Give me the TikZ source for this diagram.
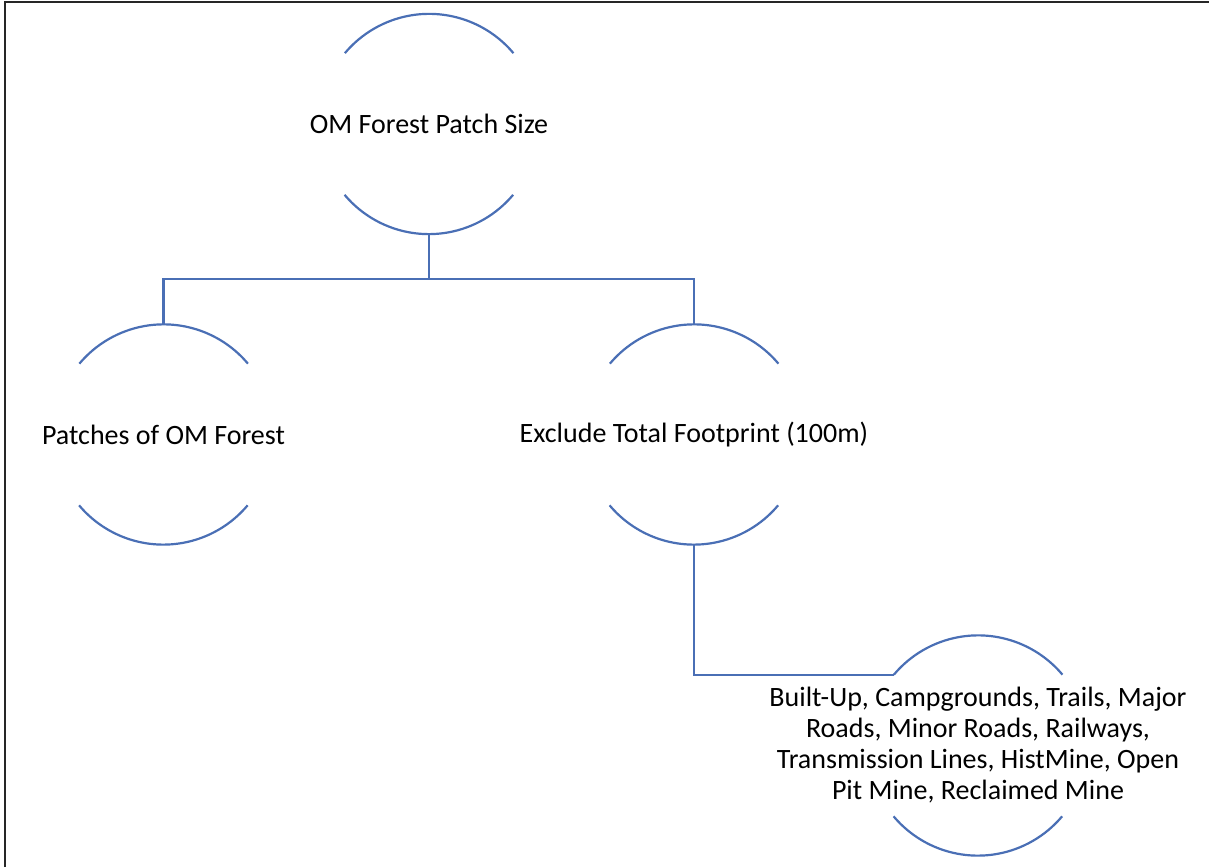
\documentclass[tikz,border=0pt]{standalone}
\usepackage{fontspec}
\setmainfont{Carlito}
\definecolor{arcblue}{HTML}{4A6FB5}
\begin{document}
\begin{tikzpicture}[x=1pt,y=1pt,
  ring/.style={circle,draw=none,minimum size=220pt,inner sep=0pt},
  lbl/.style={font=\fontsize{28}{31}\selectfont,inner sep=0pt,align=center},
  arcline/.style={draw=arcblue,line width=2.2pt},
  conn/.style={draw=arcblue,line width=2.2pt}]
\useasboundingbox (0,0) rectangle (1209,867);
% frame lines
\draw[black!85,line width=1.5pt] (5,0) -- (5,865) -- (1209,865);
% circles (invisible), labels
\node[ring] (c1) at (429,743) {};
\node[ring] (c2) at (163.5,432.5) {};
\node[ring] (c3) at (694,432.5) {};
\node[ring] (c4) at (978,121.5) {};
\node[lbl] (t1) at (c1.center) {OM Forest Patch Size};
\node[lbl] (t2) at (c2.center) {Patches of OM Forest};
\node[lbl] (t3) at (c3.center) {Exclude Total Footprint (100m)};
\node[lbl] (t4) at (c4.center) {Built-Up, Campgrounds, Trails, Major\\Roads, Minor Roads, Railways,\\Transmission Lines, HistMine, Open\\Pit Mine, Reclaimed Mine};
% arcs
\foreach \n in {c1,c2,c3,c4}{
  \draw[arcline] (\n.40) arc[start angle=40,end angle=140,radius=110pt];
  \draw[arcline] (\n.220) arc[start angle=220,end angle=320,radius=110pt];
}
% connectors
\draw[conn] (c1.south) -- ++(0,-45) coordinate (j);
\draw[conn] (j) -| (c2.north);
\draw[conn] (j) -| (c3.north);
\draw[conn] (c3.south) |- (c4.140);
\end{tikzpicture}
\end{document}
